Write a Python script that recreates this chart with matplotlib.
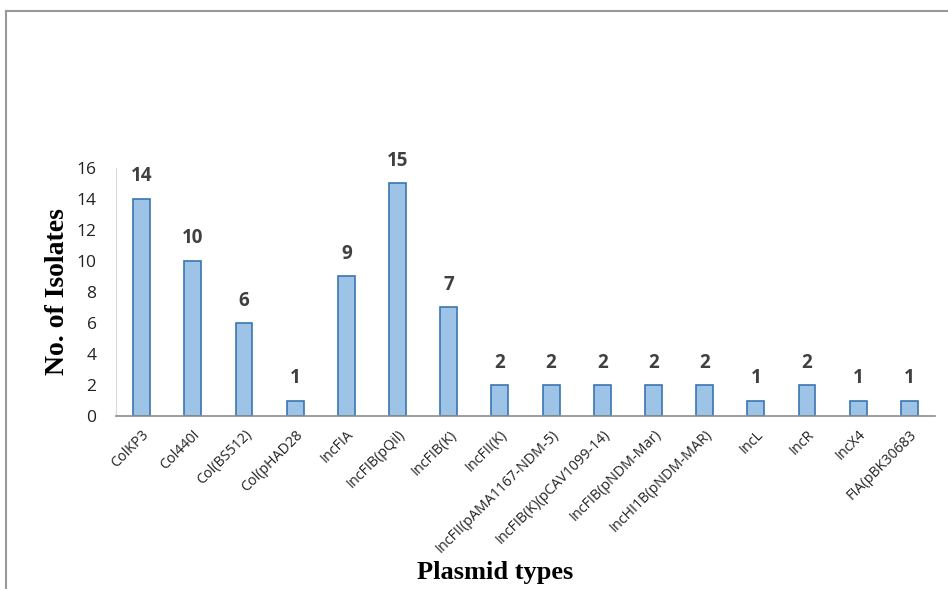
import matplotlib
matplotlib.use("Agg")
import matplotlib.pyplot as plt
from matplotlib.lines import Line2D

# plasmid replicon types and how many isolates carry each
plasmids = ["ColKP3", "Col440I", "Col(BS512)", "Col(pHAD28", "IncFIA",
            "IncFIB(pQil)", "IncFIB(K)", "IncFII(K)", "IncFII(pAMA1167-NDM-5)",
            "IncFIB(K)(pCAV1099-14)", "IncFIB(pNDM-Mar)", "IncHI1B(pNDM-MAR)",
            "IncL", "IncR", "IncX4", "FIA(pBK30683"]
isolates = [14, 10, 6, 1, 9, 15, 7, 2, 2, 2, 2, 2, 1, 2, 1, 1]
y_ticks = [0, 2, 4, 6, 8, 10, 12, 14, 16]

fig = plt.figure(figsize=(9.48, 5.89), dpi=100)
ax = fig.add_axes([0.1224, 0.2937, 0.8639, 0.4211])

x = range(len(plasmids))
bars = ax.bar(x, isolates, width=0.33, color="#9dc3e6", edgecolor="#3a75b0", linewidth=1.2)

for b, v in zip(bars, isolates):
    ax.annotate(str(v), (b.get_x() + b.get_width() / 2, v), xytext=(0, 9),
                textcoords="offset points", ha="center", va="bottom",
                fontsize=13.5, fontweight="bold", color="#404040", family="Open Sans")

ax.set_xlim(-0.5, len(plasmids) - 0.5)
ax.set_ylim(0, 16)
ax.set_yticks(y_ticks)
ax.set_yticklabels([str(t) for t in y_ticks], fontsize=12.5, family="Open Sans", color="#222222")
ax.set_xticks(list(x))
ax.set_xticklabels(plasmids, rotation=45, ha="right", rotation_mode="anchor",
                   fontsize=10.3, family="Open Sans", color="#222222")
ax.tick_params(axis="both", length=0)
ax.tick_params(axis="y", pad=14)
ax.tick_params(axis="x", pad=8)

for side in ["top", "right"]:
    ax.spines[side].set_visible(False)
ax.spines["left"].set_color("#d9d9d9")
ax.spines["bottom"].set_color("#8c8c8c")
ax.spines["bottom"].set_linewidth(1.2)

ax.set_ylabel("No. of Isolates", fontsize=20, fontweight="bold",
              family="Liberation Serif", labelpad=5)
fig.text(0.522, 0.028, "Plasmid types", fontsize=19, fontweight="bold",
         family="Liberation Serif", ha="center", va="center")

# frame lines on the left and top
fig.add_artist(Line2D([0.0065, 0.0065], [0.0, 0.982], color="#999999", lw=1.5,
                      transform=fig.transFigure))
fig.add_artist(Line2D([0.0065, 1.0], [0.982, 0.982], color="#999999", lw=1.5,
                      transform=fig.transFigure))

fig.savefig("out.png", dpi=100)
